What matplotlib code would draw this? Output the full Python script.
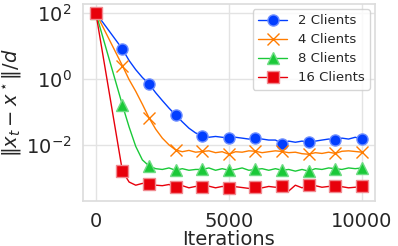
import matplotlib
matplotlib.use('Agg')
import matplotlib.pyplot as plt
import seaborn as sns

sns.set_theme(style='whitegrid')
plt.rcParams['font.family'] = ['DejaVu Sans']

iters = [0, 1000, 1250, 1500, 1750, 2000, 2250, 2500, 2750, 3000, 3250, 3500, 3750,
         4000, 4250, 4500, 4750, 5000, 5250, 5500, 5750, 6000, 6250, 6500, 6750,
         7000, 7250, 7500, 7750, 8000, 8250, 8500, 8750, 9000, 9250, 9500, 9750, 10000]

err_2 = [100, 8.0, 3.6, 1.9, 1.1, 0.70, 0.38, 0.22, 0.13, 0.080, 0.050, 0.032, 0.023,
         0.019, 0.017, 0.018, 0.017, 0.016, 0.017, 0.016, 0.015, 0.016, 0.015, 0.014, 0.014,
         0.011, 0.013, 0.012, 0.013, 0.012, 0.013, 0.014, 0.015, 0.014, 0.016, 0.015, 0.017, 0.015]
err_4 = [100, 2.5, 0.95, 0.42, 0.17, 0.066, 0.030, 0.016, 0.010, 0.0070, 0.0062, 0.0068, 0.0060,
         0.0063, 0.0066, 0.0058, 0.0062, 0.0052, 0.0062, 0.0060, 0.0066, 0.0064, 0.0058, 0.0062, 0.0066,
         0.0063, 0.0058, 0.0060, 0.0054, 0.0052, 0.0058, 0.0055, 0.0060, 0.0055, 0.0064, 0.0066, 0.0063, 0.0060]
err_8 = [100, 0.16, 0.035, 0.009, 0.0035, 0.0023, 0.0019, 0.0018, 0.0020, 0.0017, 0.0019, 0.0017, 0.0018,
         0.0018, 0.0020, 0.0017, 0.0019, 0.0017, 0.0018, 0.0020, 0.0017, 0.0018, 0.0019, 0.0017, 0.0019,
         0.0017, 0.0018, 0.0016, 0.0018, 0.0016, 0.0019, 0.0018, 0.0020, 0.0019, 0.0018, 0.0020, 0.0019, 0.0020]
err_16 = [100, 0.0016, 0.00075, 0.00060, 0.00068, 0.00066, 0.00060, 0.00058, 0.00063, 0.00052, 0.00058, 0.00050, 0.00055,
          0.00052, 0.00056, 0.00050, 0.00055, 0.00050, 0.00054, 0.00051, 0.00048, 0.00052, 0.00050, 0.00055, 0.00052,
          0.00056, 0.00040, 0.00060, 0.00050, 0.00060, 0.00058, 0.00052, 0.00055, 0.00058, 0.00054, 0.00050, 0.00052, 0.00055]

labels = ['2 Clients', '4 Clients', '8 Clients', '16 Clients']
colors = ['#023eff', '#ff7c00', '#1ac938', '#e8000b']
edge_colors = ['#6f8fff', '#ff7c00', '#6fdc84', '#f08a90']
markers = ['o', 'x', '^', 's']
marker_idx = [i for i, t in enumerate(iters) if t % 1000 == 0]

fig, ax = plt.subplots(figsize=(3.98, 2.46), dpi=100)
for y, lab, c, ec, m in zip([err_2, err_4, err_8, err_16], labels, colors, edge_colors, markers):
    ax.plot(iters, y, color=c, marker=m, markevery=marker_idx, markersize=8,
            markeredgecolor=ec if m != 'x' else c, markeredgewidth=1.0, linewidth=1.0, label=lab)

ax.set_yscale('log')
ax.set_xlim(-490, 10490)
ax.set_ylim(10 ** -3.7, 10 ** 2.27)
ax.set_yticks([1e-2, 1e0, 1e2])
ax.set_xticks([0, 5000, 10000])
ax.minorticks_off()
ax.tick_params(labelsize=14, colors='#262626', pad=2)
ax.set_xlabel('Iterations', fontsize=14, color='#262626', labelpad=-1)
ax.set_ylabel(r'$\|x_t - x^\star\|/d$', fontsize=14, color='#262626', labelpad=2)
ax.legend(loc='upper right', fontsize=9.5, frameon=True, handlelength=2.2,
          borderaxespad=0.4, labelspacing=0.45)
ax.grid(color='#e3e3e3')
for s in ax.spines.values():
    s.set_color('#dddddd')

plt.subplots_adjust(left=0.208, right=0.942, top=0.984, bottom=0.183)
fig.savefig('out.png')
